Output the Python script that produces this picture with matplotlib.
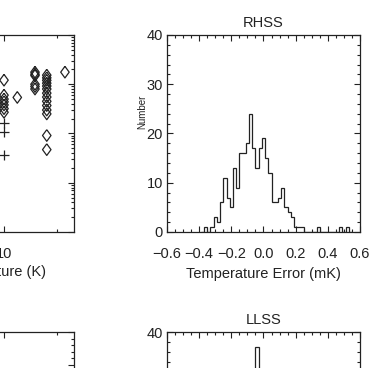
import numpy as np
import matplotlib
matplotlib.use("Agg")
import matplotlib.pyplot as plt
from matplotlib.ticker import MultipleLocator, LogLocator, NullFormatter, FormatStrFormatter, FuncFormatter

plt.rcParams['font.family'] = ['Liberation Sans', 'DejaVu Sans']
plt.rcParams['font.size'] = 10

# --- top-left scatter (log-log): temperature (K) vs quantity
DIAMOND_T = [10, 10, 10, 10, 10, 10, 10,
             11.9,
             15.0, 15.0, 15.0, 15.0, 15.0, 15.0,
             17.5, 17.5, 17.5, 17.5, 17.5, 17.5, 17.5, 17.5, 17.5, 17.5, 17.5, 17.5,
             17.5, 17.5,
             22.2]
DIAMOND_V = [1.21, 0.60, 0.50, 0.44, 0.38, 0.32, 0.27,
             0.54,
             1.76, 1.6, 1.5, 1.0, 0.9, 0.8,
             1.53, 1.35, 1.2, 1.05, 0.92, 0.8, 0.66, 0.55, 0.45, 0.37, 0.3, 0.25,
             0.091, 0.047,
             1.76]
PLUS_T = [10, 10, 10]
PLUS_V = [0.16, 0.105, 0.036]

# --- histograms of temperature error (mK), bins of 0.02
BIN_WIDTH = 0.02
RHSS_START = -0.39
RHSS_COUNTS = [0, 1, 0, 1, 3, 2, 6, 11, 7, 5, 13, 9, 16, 16, 18, 24, 17, 13, 17, 19,
               15, 12, 6, 6, 7, 9, 5, 4, 3, 1, 1, 1, 0, 0, 0, 0, 1, 0, 0, 0, 0, 0,
               0, 1, 0, 1, 0]
LLSS_START = -0.15
LLSS_COUNTS = [2, 6, 12, 20, 26, 37, 24, 16, 9, 4, 1]

INK = "#222222"
DIAMOND = [(0, 1), (0.73, 0), (0, -1), (-0.73, 0), (0, 1)]


def idl_style(ax):
    ax.tick_params(which='both', direction='in', top=True, right=True, color=INK,
                   width=0.8, labelcolor=INK, labelsize=10.5)
    ax.tick_params(which='major', length=4.5, pad=11)
    ax.tick_params(which='minor', length=2.5)
    for s in ax.spines.values():
        s.set_linewidth(0.9)
        s.set_color(INK)


def log_temp_axis(ax):
    ax.set_xscale('log')
    ax.set_xlim(2, 25)
    ax.xaxis.set_major_locator(LogLocator(base=10))
    ax.xaxis.set_minor_locator(LogLocator(base=10, subs=np.arange(2, 10)))
    ax.xaxis.set_major_formatter(FormatStrFormatter('%g'))
    ax.xaxis.set_minor_formatter(NullFormatter())


def hist_panel(ax, start, counts, title):
    edges = start + BIN_WIDTH * np.arange(len(counts) + 1)
    ax.stairs(counts, edges, color=INK, linewidth=0.9)
    ax.set_xlim(-0.6, 0.6)
    ax.set_ylim(0, 40)
    ax.xaxis.set_major_locator(MultipleLocator(0.2))
    ax.xaxis.set_minor_locator(MultipleLocator(0.05))
    ax.xaxis.set_major_formatter(FuncFormatter(lambda v, p: f"{v:.1f}".replace("-", "\u2212")))
    ax.yaxis.set_major_locator(MultipleLocator(10))
    ax.yaxis.set_minor_locator(MultipleLocator(2))
    idl_style(ax)
    ax.tick_params(axis='y', which='major', pad=3)
    ax.set_title(title, fontsize=10.5, pad=6, color=INK)
    ax.set_xlabel("Temperature Error (mK)", labelpad=4, color=INK, fontsize=10.5)
    ax.set_ylabel("Number", fontsize=7, color=INK)
    ax.yaxis.set_label_coords(-0.10, 0.61)


fig = plt.figure(figsize=(3.91, 3.68), dpi=100)
W, H = 0.4936, 0.5353

# top-left: scatter
ax1 = fig.add_axes([-0.3043, 0.3696, W, H])
ax1.scatter(DIAMOND_T, DIAMOND_V, marker=DIAMOND, s=70, facecolors='none',
            edgecolors=INK, linewidths=0.9)
ax1.scatter(PLUS_T, PLUS_V, marker='+', s=45, color=INK, linewidths=0.9)
log_temp_axis(ax1)
ax1.set_yscale('log')
ax1.set_ylim(1e-3, 10)
ax1.yaxis.set_minor_locator(LogLocator(base=10, subs=np.arange(2, 10)))
ax1.yaxis.set_minor_formatter(NullFormatter())
idl_style(ax1)
ax1.set_xlabel("Temperature (K)", labelpad=4, color=INK, fontsize=10.5)
ax1.xaxis.set_label_coords(0.58, -0.17)

# bottom-left: next panel (only its upper edge is in view)
ax3 = fig.add_axes([-0.3043, -0.4375, W, H])
log_temp_axis(ax3)
ax3.set_ylim(0, 30)
ax3.yaxis.set_major_locator(MultipleLocator(5))
ax3.yaxis.set_minor_locator(MultipleLocator(1))
idl_style(ax3)

# right column: histograms
ax2 = fig.add_axes([0.4271, 0.3696, W, H])
hist_panel(ax2, RHSS_START, RHSS_COUNTS, "RHSS")
ax4 = fig.add_axes([0.4271, -0.4375, W, H])
hist_panel(ax4, LLSS_START, LLSS_COUNTS, "LLSS")

fig.savefig("out.png", dpi=100)
